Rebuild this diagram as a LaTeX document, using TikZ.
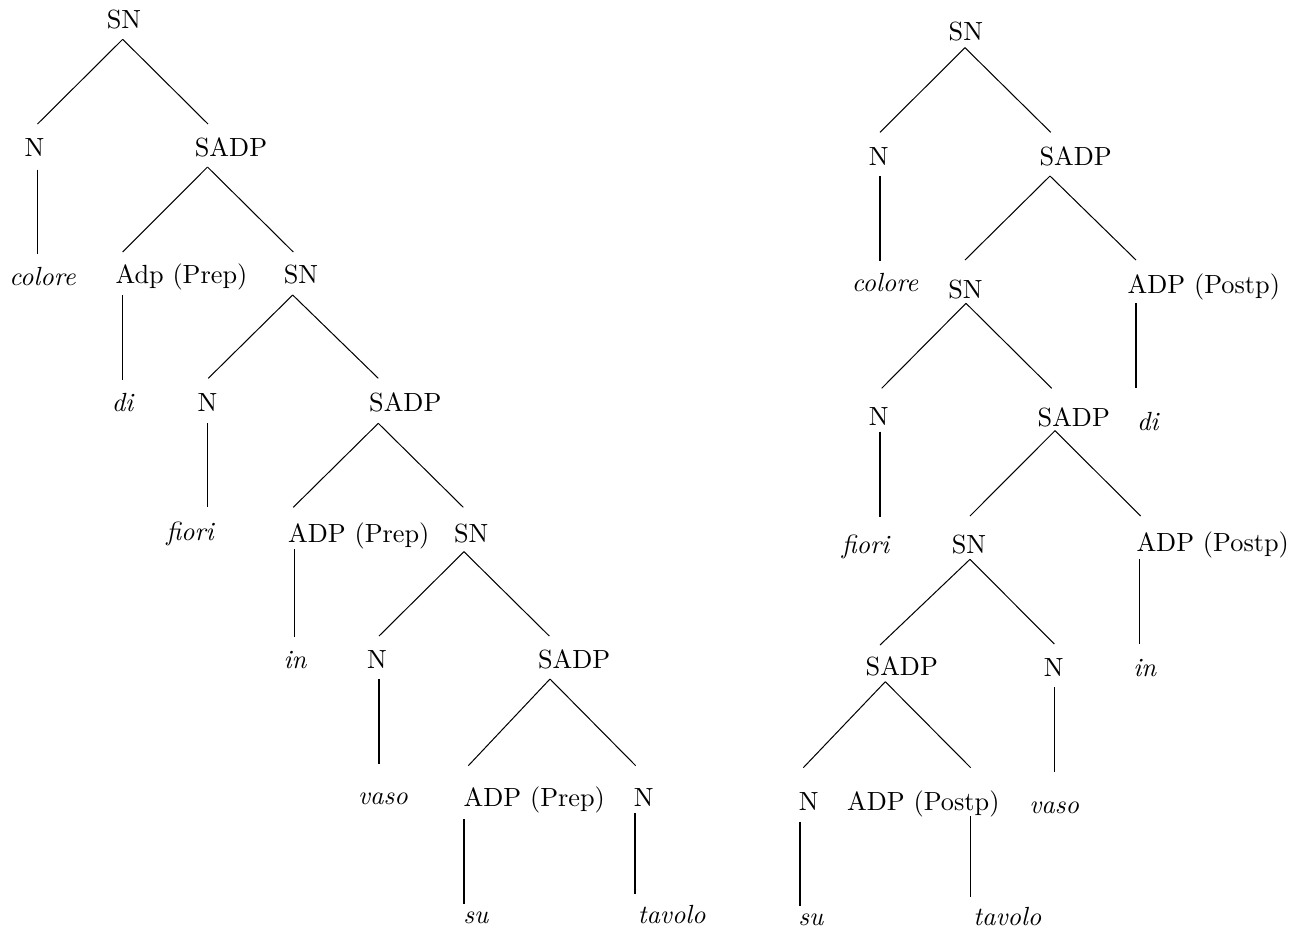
\documentclass[tikz,border=0pt]{standalone}
\begin{document}
\begin{tikzpicture}[x=0.392pt,y=-0.392pt,
  lbl/.style={anchor=base,inner sep=0pt,outer sep=0pt,font=\fontsize{10.3}{12}\selectfont},
  word/.style={lbl,font=\fontsize{10.3}{12}\selectfont\itshape},
  edge/.style={line width=0.4pt,black}]
\useasboundingbox (0,0) rectangle (1304,930);
% ---------------- left tree ----------------
\node[lbl] (L0) at (124,28.5) {SN};
\coordinate (L0-b) at (122.7,39.3);
\node[lbl] (L1a) at (34.5,156.5) {N};
\coordinate (L1a-t) at (37.5,124); \coordinate (L1a-b) at (37.5,169.5);
\node[lbl] (L1b) at (231,156) {SADP};
\coordinate (L1b-t) at (208,124); \coordinate (L1b-b) at (207.5,167);
\node[word] (L2a) at (42.5,285) {colore};
\coordinate (L2a-t) at (37.5,254);
\node[lbl] (L2b) at (181.5,283.5) {Adp (Prep)};
\coordinate (L2b-t) at (122.7,252); \coordinate (L2b-b) at (122.7,295);
\node[lbl] (L2c) at (301,283.5) {SN};
\coordinate (L2c-t) at (293.3,252); \coordinate (L2c-b) at (292.7,295);
\node[word] (L3a) at (122.5,411.7) {di};
\coordinate (L3a-t) at (122.7,380);
\node[lbl] (L3b) at (207.5,411.7) {N};
\coordinate (L3b-t) at (208.3,378.3); \coordinate (L3b-b) at (207.7,423.3);
\node[lbl] (L3c) at (405.3,411.7) {SADP};
\coordinate (L3c-t) at (378.3,378.3); \coordinate (L3c-b) at (378.3,423.3);
\node[word] (L4a) at (190,540) {fiori};
\coordinate (L4a-t) at (207.7,507.3);
\node[lbl] (L4b) at (358.8,542.7) {ADP (Prep)};
\coordinate (L4b-t) at (293.3,507.3); \coordinate (L4b-b) at (294.3,549.3);
\node[lbl] (L4c) at (471.2,542.7) {SN};
\coordinate (L4c-t) at (463.3,507.3); \coordinate (L4c-b) at (464,551.7);
\node[word] (L5a) at (295,668.3) {in};
\coordinate (L5a-t) at (294.3,636.7);
\node[lbl] (L5b) at (377,668.3) {N};
\coordinate (L5b-t) at (379,636); \coordinate (L5b-b) at (379,679);
\node[lbl] (L5c) at (574.2,668.3) {SADP};
\coordinate (L5c-t) at (549.3,636); \coordinate (L5c-b) at (550,679);
\node[word] (L6a) at (383,804) {vaso};
\coordinate (L6a-t) at (379,764);
\node[lbl] (L6b) at (534.3,806.7) {ADP (Prep)};
\coordinate (L6b-t) at (468.3,765.7); \coordinate (L6b-b) at (464,819.3);
\node[lbl] (L6c) at (643.8,806.7) {N};
\coordinate (L6c-t) at (635.7,765.7); \coordinate (L6c-b) at (635,813.3);
\node[word] (L7a) at (475.8,923.3) {su};
\coordinate (L7a-t) at (464,904);
\node[word] (L7b) at (671.7,923) {tavolo};
\coordinate (L7b-t) at (635,894.3);
\draw[edge] (L0-b) -- (L1a-t);
\draw[edge] (L0-b) -- (L1b-t);
\draw[edge] (L1a-b) -- (L2a-t);
\draw[edge] (L1b-b) -- (L2b-t);
\draw[edge] (L1b-b) -- (L2c-t);
\draw[edge] (L2b-b) -- (L3a-t);
\draw[edge] (L2c-b) -- (L3b-t);
\draw[edge] (L2c-b) -- (L3c-t);
\draw[edge] (L3b-b) -- (L4a-t);
\draw[edge] (L3c-b) -- (L4b-t);
\draw[edge] (L3c-b) -- (L4c-t);
\draw[edge] (L4b-b) -- (L5a-t);
\draw[edge] (L4c-b) -- (L5b-t);
\draw[edge] (L4c-b) -- (L5c-t);
\draw[edge] (L5b-b) -- (L6a-t);
\draw[edge] (L5c-b) -- (L6b-t);
\draw[edge] (L5c-b) -- (L6c-t);
\draw[edge] (L6b-b) -- (L7a-t);
\draw[edge] (L6c-b) -- (L7b-t);
% ---------------- right tree ----------------
\node[lbl] (R0) at (965.8,40) {SN};
\coordinate (R0-b) at (965,47.7);
\node[lbl] (R1a) at (878.7,165.7) {N};
\coordinate (R1a-t) at (880,132.3); \coordinate (R1a-b) at (880,176);
\node[lbl] (R1b) at (1075.7,165.7) {SADP};
\coordinate (R1b-t) at (1050.7,132.3); \coordinate (R1b-b) at (1050,176);
\node[word] (R2a) at (885,291.7) {colore};
\coordinate (R2a-t) at (880,260.7);
\node[lbl] (R2b) at (965.5,298.3) {SN};
\coordinate (R2b-t) at (965,260); \coordinate (R2b-b) at (966,303.3);
\node[lbl] (R2c) at (1203.8,293.3) {ADP (Postp)};
\coordinate (R2c-t) at (1136,260); \coordinate (R2c-b) at (1136,303.3);
\node[lbl] (R3a) at (878.7,425.7) {N};
\coordinate (R3a-t) at (881.7,388.3); \coordinate (R3a-b) at (880,431.7);
\node[lbl] (R3b) at (1073.8,426.7) {SADP};
\coordinate (R3b-t) at (1051.7,388.3); \coordinate (R3b-b) at (1055,430.7);
\node[word] (R3c) at (1147.8,430.7) {di};
\coordinate (R3c-t) at (1136,388.3);
\node[word] (R4a) at (865.5,553) {fiori};
\coordinate (R4a-t) at (880,516.7);
\node[lbl] (R4b) at (969,553.3) {SN};
\coordinate (R4b-t) at (970,516); \coordinate (R4b-b) at (970,559.3);
\node[lbl] (R4c) at (1212.7,551.7) {ADP (Postp)};
\coordinate (R4c-t) at (1140.7,516); \coordinate (R4c-b) at (1139.3,559.3);
\node[lbl] (R5a) at (901.8,675) {SADP};
\coordinate (R5a-t) at (880,645); \coordinate (R5a-b) at (885.3,681.7);
\node[lbl] (R5b) at (1053.8,676.7) {N};
\coordinate (R5b-t) at (1054.3,644); \coordinate (R5b-b) at (1054.3,686.7);
\node[word] (R5c) at (1144.7,676.7) {in};
\coordinate (R5c-t) at (1139.3,644);
\node[lbl] (R6a) at (808.8,810) {N};
\coordinate (R6a-t) at (803.3,767.7); \coordinate (R6a-b) at (800,821.7);
\node[lbl] (R6b) at (923.3,810) {ADP (Postp)};
\coordinate (R6b-t) at (970.7,767.7); \coordinate (R6b-b) at (970.7,816);
\node[word] (R6c) at (1054.2,813.3) {vaso};
\coordinate (R6c-t) at (1054.3,771.7);
\node[word] (R7a) at (810.8,925) {su};
\coordinate (R7a-t) at (800,906);
\node[word] (R7b) at (1007.3,925) {tavolo};
\coordinate (R7b-t) at (970.7,896.7);
\draw[edge] (R0-b) -- (R1a-t);
\draw[edge] (R0-b) -- (R1b-t);
\draw[edge] (R1a-b) -- (R2a-t);
\draw[edge] (R1b-b) -- (R2b-t);
\draw[edge] (R1b-b) -- (R2c-t);
\draw[edge] (R2b-b) -- (R3a-t);
\draw[edge] (R2b-b) -- (R3b-t);
\draw[edge] (R2c-b) -- (R3c-t);
\draw[edge] (R3a-b) -- (R4a-t);
\draw[edge] (R3b-b) -- (R4b-t);
\draw[edge] (R3b-b) -- (R4c-t);
\draw[edge] (R4b-b) -- (R5a-t);
\draw[edge] (R4b-b) -- (R5b-t);
\draw[edge] (R4c-b) -- (R5c-t);
\draw[edge] (R5a-b) -- (R6a-t);
\draw[edge] (R5a-b) -- (R6b-t);
\draw[edge] (R5b-b) -- (R6c-t);
\draw[edge] (R6a-b) -- (R7a-t);
\draw[edge] (R6b-b) -- (R7b-t);
\end{tikzpicture}
\end{document}
